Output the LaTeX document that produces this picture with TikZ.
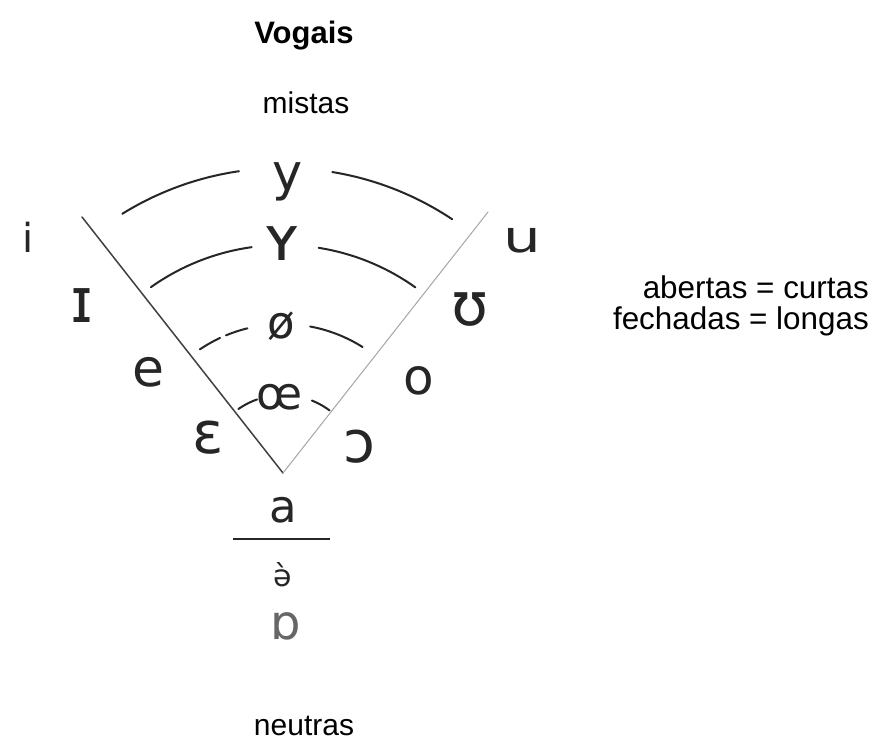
\documentclass[tikz,border=0pt]{standalone}
\usepackage{fontspec}
\setmainfont{Liberation Sans}
\newfontfamily\ipa{DejaVu Sans}
\begin{document}
\begin{tikzpicture}[x=1pt,y=-1pt,
  lbl/.style={inner sep=0pt, font=\fontsize{30}{36}\selectfont},
  hand/.style={inner sep=0pt, text=black!85},
  arcline/.style={line width=2pt, black!85, line cap=round},
]
\useasboundingbox[fill=white] (0,0) rectangle (876,740);
% printed labels
\node[lbl, anchor=base, font=\bfseries\fontsize{31}{36}\selectfont] (title) at (304,43) {Vogais};
\node[lbl, anchor=base] (mistas) at (306,113) {mistas};
\node[lbl, anchor=base] (neutras) at (304,735) {neutras};
\node[lbl, anchor=base east, font=\fontsize{31.4}{36}\selectfont] (ab) at (869,298) {abertas = curtas};
\node[lbl, anchor=base east, font=\fontsize{31.4}{36}\selectfont] (fe) at (869,329) {fechadas = longas};
% wedge
\coordinate (V) at (283,473);
\coordinate (L) at (82,217);
\coordinate (R) at (488,212);
\draw[line width=1.5pt, black!75, line cap=round] (L) -- (V);
\draw[line width=1pt, black!35, line cap=round] (V) -- (R);
% arcs
\draw[arcline] plot[domain=121.8:98.3, samples=30] ({283+305*cos(\x)},{473-305*sin(\x)});
\draw[arcline] plot[domain=80.7:56.3, samples=30] ({283+305*cos(\x)},{473-305*sin(\x)});
\draw[arcline] plot[domain=125.4:97.9, samples=30] ({283+228*cos(\x)},{473-228*sin(\x)});
\draw[arcline] plot[domain=81:54.5, samples=30] ({283+228*cos(\x)},{473-228*sin(\x)});
\draw[arcline] plot[domain=123.9:115, samples=10] ({283+149*cos(\x)},{473-149*sin(\x)});
\draw[arcline] plot[domain=112.5:103.8, samples=10] ({283+149*cos(\x)},{473-149*sin(\x)});
\draw[arcline] plot[domain=79.5:57.7, samples=20] ({283+149*cos(\x)},{473-149*sin(\x)});
\draw[arcline] plot[domain=124.9:109.4, samples=10] ({283+78*cos(\x)},{473-78*sin(\x)});
\draw[arcline] plot[domain=68.3:53.3, samples=10] ({283+78*cos(\x)},{473-78*sin(\x)});
% handwritten vowels
\node[hand, font=\ipa\fontsize{40}{40}\selectfont] (i) at (28,237) {i};
\node[hand, font=\ipa\fontsize{62}{62}\selectfont] (I) at (82,306) {ɪ};
\node[hand, font=\ipa\fontsize{52}{52}\selectfont] (e) at (148,372) {e};
\node[hand, font=\ipa\fontsize{58}{58}\selectfont] (eps) at (208,438) {ɛ};
\node[hand, xscale=1.35, font=\ipa\fontsize{44}{44}\selectfont] (u) at (522,240) {u};
\node[hand, font=\ipa\fontsize{60}{60}\selectfont] (U) at (470,310) {ʊ};
\node[hand, font=\ipa\fontsize{50}{50}\selectfont] (o) at (419,381) {o};
\node[hand, font=\ipa\fontsize{58}{58}\selectfont] (oo) at (359,447) {ɔ};
\node[hand, font=\ipa\fontsize{51}{51}\selectfont] (y) at (288,182) {y};
\node[hand, font=\ipa\fontsize{62}{62}\selectfont] (Y) at (282,244) {ʏ};
\node[hand, font=\ipa\fontsize{45}{45}\selectfont] (oe) at (281,326) {ø};
\node[hand, font=\ipa\fontsize{45}{45}\selectfont] (OE) at (280,397) {œ};
\node[hand, font=\ipa\fontsize{45}{45}\selectfont] (a) at (283,510) {a};
\node[hand, font=\ipa\fontsize{30}{30}\selectfont] (schwa) at (283,575) {ə̀};
\node[hand, text=black!60, font=\ipa\fontsize{48}{48}\selectfont] (ao) at (286,626) {ɒ};
\coordinate (hl) at (233,539);
\coordinate (hr) at (330,539);
\draw[line width=2.5pt, black!85] (hl) -- (hr);
\end{tikzpicture}
\end{document}
